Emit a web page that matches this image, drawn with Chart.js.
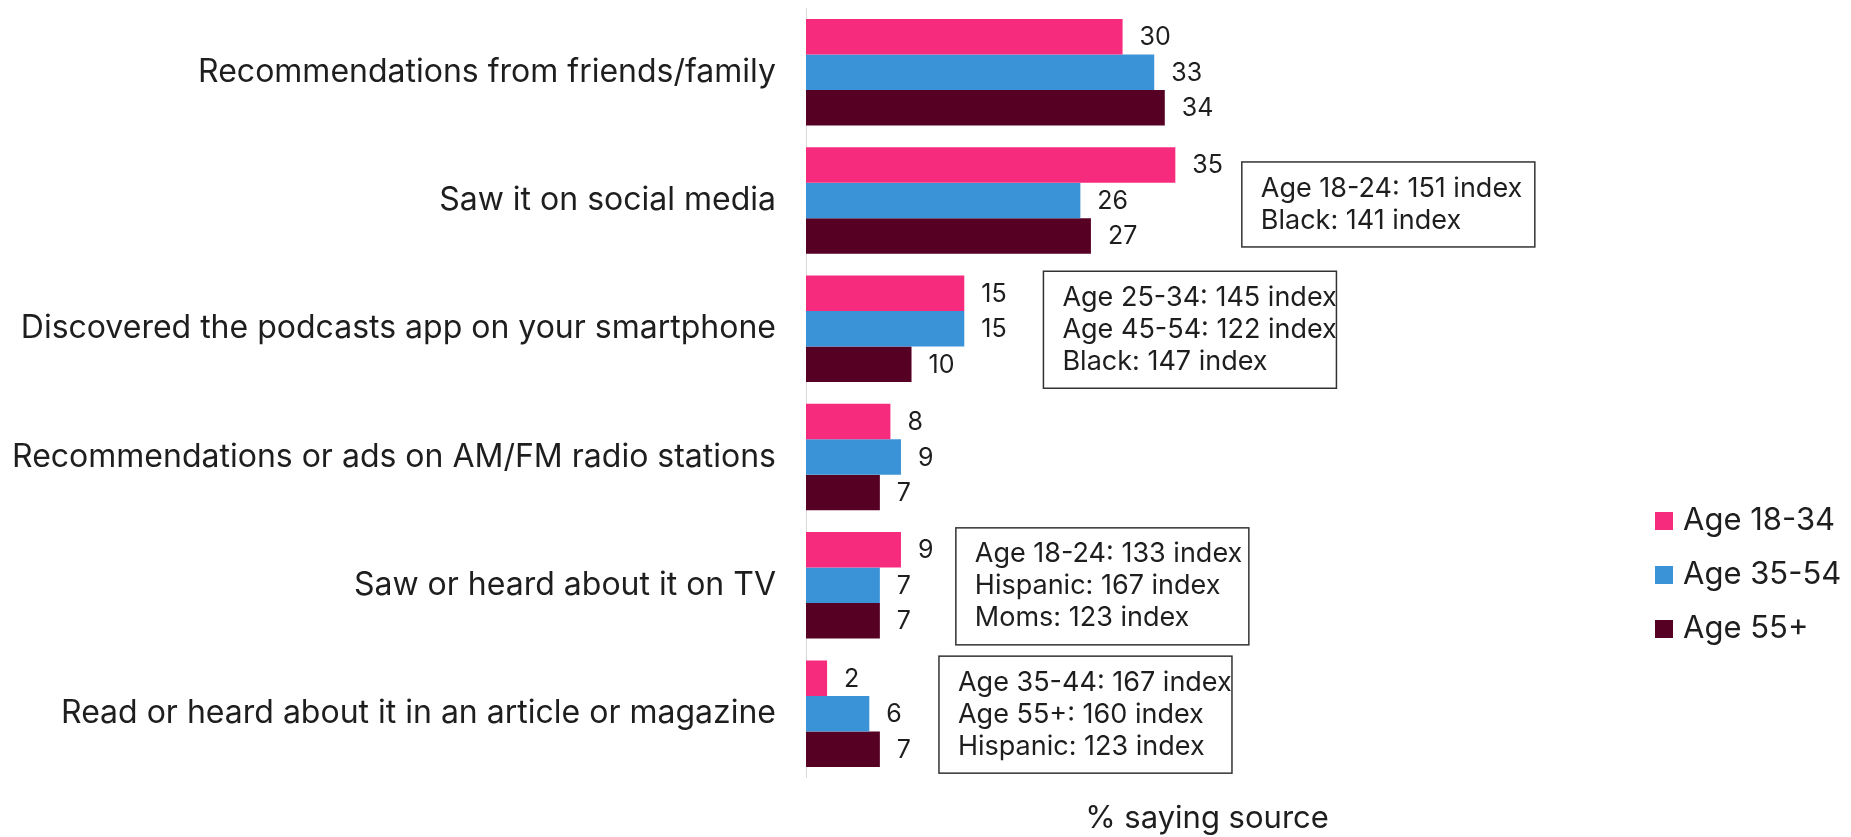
<!DOCTYPE html>
<html>
<head>
<meta charset="utf-8">
<script src="https://cdn.jsdelivr.net/npm/chart.js@4.4.0/dist/chart.umd.min.js"></script>
<style>
    html, body { margin: 0; padding: 0; background: #ffffff; }
    #sourceChart { display: block; }
</style>
</head>
<body>
<canvas id="sourceChart" width="1851" height="837"></canvas>
<script>
const sources = [
    'Recommendations from friends/family',
    'Saw it on social media',
    'Discovered the podcasts app on your smartphone',
    'Recommendations or ads on AM/FM radio stations',
    'Saw or heard about it on TV',
    'Read or heard about it in an article or magazine'
];
const ageGroups = ['Age 18-34', 'Age 35-54', 'Age 55+'];
const age18to34 = [30, 35, 15, 8, 9, 2];
const age35to54 = [33, 26, 15, 9, 7, 6];
const age55plus = [34, 27, 10, 7, 7, 7];
const groupColors = ['#f72b7e', '#3a93d7', '#560124'];

// index callouts: which row they sit on, where they start (in % units), and their lines
const noteRows = [1, 2, 4, 5];
const noteStart = [41.3, 22.5, 14.2, 12.6];
const noteLines = [
    ['Age 18-24: 151 index', 'Black: 141 index'],
    ['Age 25-34: 145 index', 'Age 45-54: 122 index', 'Black: 147 index'],
    ['Age 18-24: 133 index', 'Hispanic: 167 index', 'Moms: 123 index'],
    ['Age 35-44: 167 index', 'Age 55+: 160 index', 'Hispanic: 123 index']
];

const textColor = '#1e1e1e';
const fontFamily = 'Inter, "Noto Sans", sans-serif';

const valueLabels = {
    id: 'valueLabels',
    afterDatasetsDraw(chart) {
        const ctx = chart.ctx;
        ctx.save();
        ctx.font = '25px ' + fontFamily;
        ctx.fillStyle = textColor;
        ctx.textAlign = 'left';
        ctx.textBaseline = 'middle';
        chart.data.datasets.forEach((ds, i) => {
            chart.getDatasetMeta(i).data.forEach((bar, j) => {
                ctx.fillText(ds.data[j], bar.x + 17, bar.y + 1);
            });
        });
        ctx.restore();
    }
};

const indexNotes = {
    id: 'indexNotes',
    afterDraw(chart) {
        const ctx = chart.ctx;
        const xs = chart.scales.x;
        const ys = chart.scales.y;
        const lineGap = 32;
        ctx.save();
        ctx.font = '27px ' + fontFamily;
        ctx.textAlign = 'left';
        ctx.textBaseline = 'middle';
        noteRows.forEach((row, k) => {
            const lines = noteLines[k];
            const left = xs.getPixelForValue(noteStart[k]);
            const cy = ys.getPixelForValue(row) + (lines.length === 2 ? 4 : 1);
            const h = lines.length * lineGap + 21;
            ctx.strokeStyle = '#333333';
            ctx.lineWidth = 1.5;
            ctx.strokeRect(left, cy - h / 2, 293, h);
            ctx.fillStyle = textColor;
            lines.forEach((txt, n) => {
                const ty = cy + (n - (lines.length - 1) / 2) * lineGap;
                ctx.fillText(txt, left + 19, ty);
            });
        });
        ctx.restore();
    }
};

const sideLegend = {
    id: 'sideLegend',
    afterDraw(chart) {
        const ctx = chart.ctx;
        const x = chart.chartArea.right + 47;
        const top = 521;
        ctx.save();
        ctx.font = '31px ' + fontFamily;
        ctx.textAlign = 'left';
        ctx.textBaseline = 'middle';
        chart.data.datasets.forEach((ds, i) => {
            const y = top + i * 54;
            ctx.fillStyle = ds.backgroundColor;
            ctx.fillRect(x, y - 9, 18, 18);
            ctx.fillStyle = textColor;
            ctx.fillText(ds.label, x + 28, y);
        });
        ctx.restore();
    }
};

const ctx = document.getElementById('sourceChart').getContext('2d');
new Chart(ctx, {
    type: 'bar',
    data: {
        labels: sources,
        datasets: [age18to34, age35to54, age55plus].map((values, i) => ({
            label: ageGroups[i],
            data: values,
            backgroundColor: groupColors[i],
            borderWidth: 0,
            barPercentage: 1,
            categoryPercentage: 0.83
        }))
    },
    options: {
        indexAxis: 'y',
        responsive: false,
        animation: false,
        layout: {
            padding: { top: 8, right: 243, bottom: 0, left: 0 }
        },
        plugins: {
            legend: { display: false },
            tooltip: { enabled: false }
        },
        scales: {
            x: {
                min: 0,
                max: 76,
                grid: { display: false, drawTicks: false },
                border: { display: false },
                ticks: { display: false },
                title: {
                    display: true,
                    text: '% saying source',
                    color: textColor,
                    font: { family: fontFamily, size: 31, lineHeight: 1.2 },
                    padding: { top: 22, bottom: 0 }
                }
            },
            y: {
                grid: { display: false, drawTicks: false },
                border: { display: true, color: '#d9d9d9', width: 1 },
                ticks: {
                    color: textColor,
                    padding: 30,
                    font: { family: fontFamily, size: 32 }
                },
                afterFit(axis) {
                    axis.width = 806;
                    axis.paddingTop = 0;
                    axis.paddingBottom = 0;
                }
            }
        }
    },
    plugins: [valueLabels, indexNotes, sideLegend]
});
</script>
</body>
</html>
